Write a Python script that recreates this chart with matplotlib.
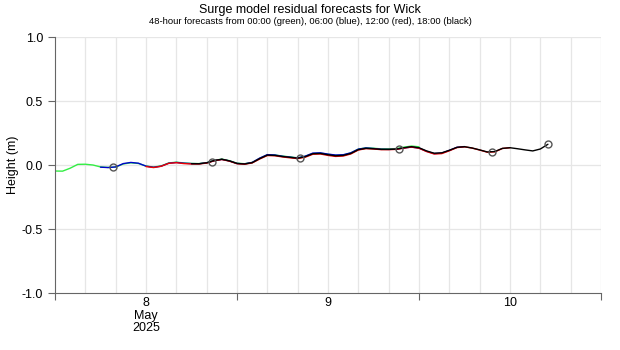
import pandas as pd
import matplotlib
matplotlib.use("Agg")
import matplotlib.pyplot as plt
import matplotlib.dates as mdates

plt.rcParams["font.family"] = ["Liberation Sans", "DejaVu Sans"]

# forecast start times and hourly surge residuals (m)
start_green = "2025-05-08 00:00"
start_blue = "2025-05-08 06:00"
start_red = "2025-05-08 12:00"
start_black = "2025-05-08 18:00"

green = [-0.047, -0.048, -0.025, 0.005, 0.006, 0.0, -0.015, -0.019, -0.016, 0.008,
         0.017, 0.012, -0.008, -0.016, -0.007, 0.016, 0.022, 0.016, 0.012, 0.011,
         0.018, 0.036, 0.046, 0.034, 0.014, 0.010, 0.020, 0.052, 0.079, 0.078,
         0.070, 0.063, 0.056, 0.068, 0.090, 0.093, 0.084, 0.076, 0.078, 0.094,
         0.124, 0.134, 0.131, 0.126, 0.126, 0.128, 0.139, 0.148, 0.142]
blue = [-0.017, -0.020, -0.015, 0.011, 0.020, 0.014, -0.009, -0.018, -0.009, 0.014,
        0.020, 0.014, 0.011, 0.010, 0.017, 0.034, 0.044, 0.032, 0.012, 0.009,
        0.020, 0.054, 0.081, 0.078, 0.068, 0.061, 0.055, 0.069, 0.093, 0.095,
        0.085, 0.078, 0.080, 0.095, 0.124, 0.133, 0.129, 0.123, 0.122, 0.123,
        0.133, 0.140, 0.132, 0.107, 0.089, 0.093, 0.114, 0.138, 0.144]
red = [-0.012, -0.020, -0.010, 0.013, 0.018, 0.011, 0.008, 0.008, 0.015, 0.033,
       0.043, 0.030, 0.010, 0.006, 0.016, 0.047, 0.074, 0.072, 0.063, 0.056,
       0.050, 0.061, 0.084, 0.086, 0.075, 0.067, 0.070, 0.086, 0.117, 0.128,
       0.125, 0.120, 0.120, 0.122, 0.132, 0.140, 0.131, 0.105, 0.086, 0.089,
       0.111, 0.136, 0.142, 0.132, 0.117, 0.100, 0.103, 0.129, 0.135]
black = [0.010, 0.010, 0.017, 0.035, 0.045, 0.032, 0.012, 0.008, 0.018, 0.050,
         0.077, 0.075, 0.066, 0.060, 0.053, 0.065, 0.088, 0.090, 0.080, 0.072,
         0.075, 0.090, 0.120, 0.130, 0.127, 0.122, 0.122, 0.124, 0.135, 0.143,
         0.135, 0.110, 0.092, 0.095, 0.115, 0.138, 0.143, 0.133, 0.118, 0.102,
         0.105, 0.130, 0.135, 0.127, 0.118, 0.110, 0.125, 0.162]

# circled points
mark_times = ["2025-05-08 07:40", "2025-05-08 20:40", "2025-05-09 08:20",
              "2025-05-09 21:25", "2025-05-10 09:35", "2025-05-10 17:00"]
mark_values = [-0.018, 0.021, 0.052, 0.125, 0.100, 0.162]

series = [(start_green, green, "#33ee44"), (start_blue, blue, "#0000cc"),
          (start_red, red, "#ee0000"), (start_black, black, "black")]

fig = plt.figure(figsize=(6.2, 3.5), dpi=100)
ax = fig.add_axes([55 / 620, 1 - 293 / 350, 546 / 620, 256 / 350])

for start, vals, col in series:
    t = pd.date_range(start, periods=len(vals), freq="h")
    ax.plot(t, vals, color=col, lw=1.0, solid_capstyle="round")

ax.plot(pd.to_datetime(mark_times), mark_values, ls="none", marker="o", ms=5,
        mfc="none", mec="#555555", mew=1.0)

ax.set_xlim(pd.Timestamp("2025-05-08"), pd.Timestamp("2025-05-11"))
ax.set_ylim(-1, 1)
ax.set_yticks([-1, -0.5, 0, 0.5, 1])
ax.set_yticklabels(["-1.0", "-0.5", "0.0", "0.5", "1.0"])

ax.xaxis.set_major_locator(mdates.DayLocator())
ax.xaxis.set_major_formatter(plt.NullFormatter())
ax.set_xticks(pd.to_datetime(["2025-05-08 12:00", "2025-05-09 12:00", "2025-05-10 12:00"]),
              ["8\nMay\n2025", "9", "10"], minor=True, linespacing=1.05)
ax.tick_params(axis="x", which="minor", length=0, pad=3, labelsize=9)
ax.tick_params(axis="x", which="major", length=5, color="#666666")
ax.tick_params(axis="y", length=5, color="#666666", labelsize=9)

for s in ["top", "right"]:
    ax.spines[s].set_visible(False)
for s in ["left", "bottom"]:
    ax.spines[s].set_color("#666666")

for h in pd.date_range("2025-05-08 04:00", "2025-05-11 00:00", freq="4h"):
    ax.axvline(h, color="#e6e6e6", lw=0.9, zorder=0)
for y in [-0.5, 0, 0.5, 1.0]:
    ax.axhline(y, color="#e6e6e6", lw=0.9, zorder=0)

ax.set_ylabel("Height (m)", fontsize=9, labelpad=2)
fig.text(0.5, 1 - 10 / 350, "Surge model residual forecasts for Wick",
         ha="center", va="center", fontsize=9)
fig.text(0.5, 1 - 22 / 350,
         "48-hour forecasts from 00:00 (green), 06:00 (blue), 12:00 (red), 18:00 (black)",
         ha="center", va="center", fontsize=6.8)

fig.savefig("out.png", dpi=100)
